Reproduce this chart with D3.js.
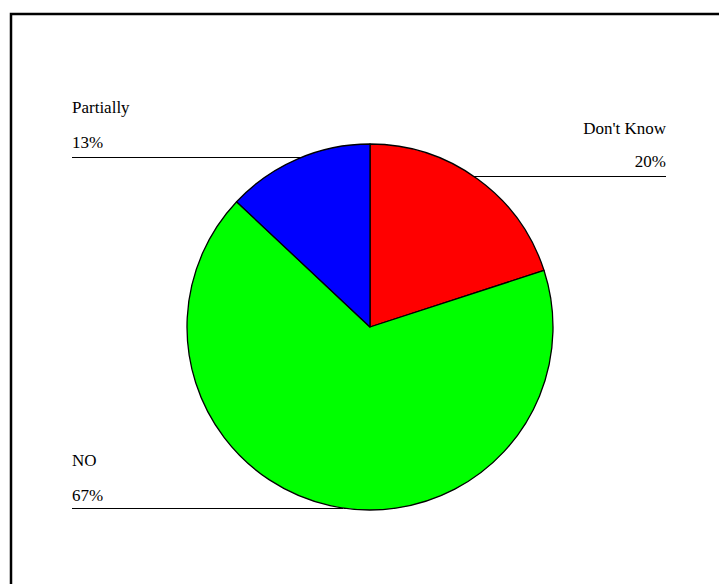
<!DOCTYPE html>
<html>
<head>
<meta charset="utf-8">
<script src="https://cdn.jsdelivr.net/npm/d3@7"></script>
<style>
  html, body { margin: 0; padding: 0; background: #fff; }
  svg { display: block; }
  text { font-family: "Liberation Serif", "Times New Roman", serif; font-size: 17px; fill: #000; }
</style>
</head>
<body>
<svg id="chart" width="719" height="584"></svg>
<script>
// ---- data ----
const categories = ["Don't Know", "NO", "Partially"];
const values = [20, 67, 13];
const percentLabels = ["20%", "67%", "13%"];
const colors = ["#ff0000", "#00ff00", "#0000ff"];

// ---- layout (not data) ----
const W = 719, H = 584;
const cx = 370, cy = 327, R = 183;
// label blocks: side, x anchor, name baseline, pct baseline, leader-line y
const labelLayout = [
  { side: "right", x: 666, nameY: 134, pctY: 167, lineY: 176 },
  { side: "left",  x: 72,  nameY: 466, pctY: 501, lineY: 508 },
  { side: "left",  x: 72,  nameY: 113, pctY: 148, lineY: 157 }
];

const svg = d3.select("#chart");

// frame (only top/left edges visible in window)
svg.append("rect")
  .attr("x", 11).attr("y", 14)
  .attr("width", 740).attr("height", 620)
  .attr("fill", "none").attr("stroke", "#000").attr("stroke-width", 2.5);

const pie = d3.pie().sort(null).value(d => d)(values);
const arc = d3.arc().innerRadius(0).outerRadius(R);

// leader lines (behind pie)
const lines = svg.append("g");
labelLayout.forEach((L, i) => {
  const dy = L.lineY - cy;
  const dx = Math.sqrt(Math.max(0, R * R - dy * dy));
  const edgeX = L.side === "right" ? cx + dx : cx - dx;
  lines.append("line")
    .attr("x1", L.side === "right" ? edgeX : L.x)
    .attr("x2", L.side === "right" ? L.x : edgeX)
    .attr("y1", L.lineY + 0.5).attr("y2", L.lineY + 0.5)
    .attr("stroke", "#000").attr("stroke-width", 1);
});

const g = svg.append("g").attr("transform", `translate(${cx},${cy})`);
g.selectAll("path.slice")
  .data(pie)
  .join("path")
  .attr("class", "slice")
  .attr("d", arc)
  .attr("fill", (d, i) => colors[i])
  .attr("stroke", "#000")
  .attr("stroke-width", 1.3)
  .attr("stroke-linejoin", "round");

// labels
const lab = svg.append("g");
labelLayout.forEach((L, i) => {
  const anchor = L.side === "right" ? "end" : "start";
  lab.append("text").attr("x", L.x).attr("y", L.nameY)
    .attr("text-anchor", anchor).text(categories[i]);
  lab.append("text").attr("x", L.x).attr("y", L.pctY)
    .attr("text-anchor", anchor).text(percentLabels[i]);
});
</script>
</body>
</html>
